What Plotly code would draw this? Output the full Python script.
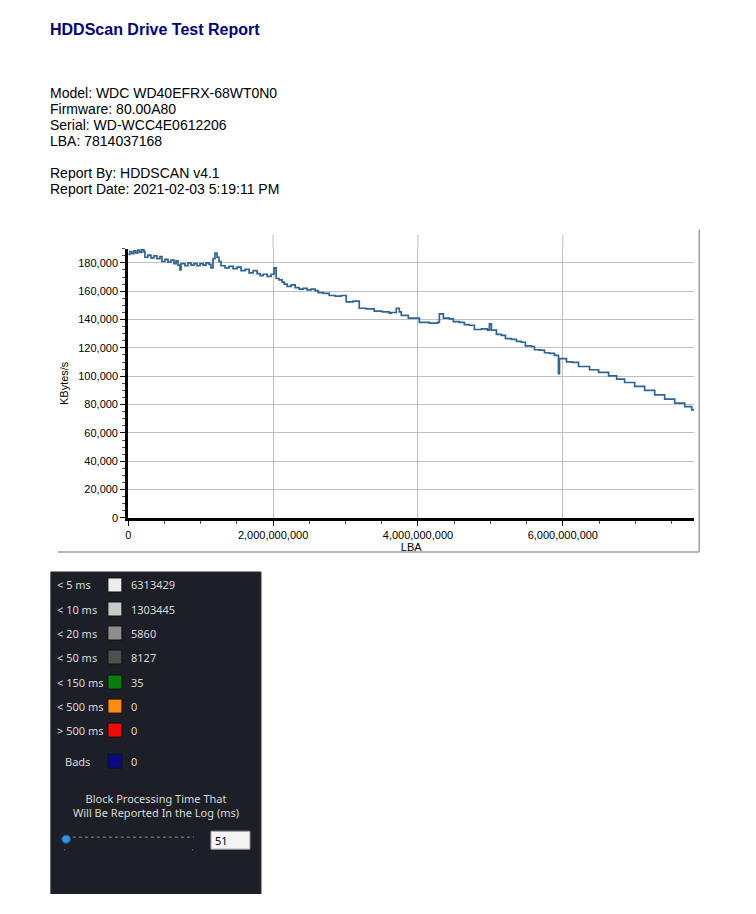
import plotly.graph_objects as go

# ─── report header ────────────────────────────────────────────────────────────
TITLE = "HDDScan Drive Test Report"
INFO_LINES = [
    "Model: WDC WD40EFRX-68WT0N0",
    "Firmware: 80.00A80",
    "Serial: WD-WCC4E0612206",
    "LBA: 7814037168",
    "",
    "Report By: HDDSCAN v4.1",
    "Report Date: 2021-02-03 5:19:11 PM",
]

# ─── transfer speed (LBA in millions, KBytes/s in thousands)
lba_m = [
    0, 24, 51, 79, 106, 134, 162, 189, 217, 231, 272, 314, 355, 397, 438, 466,
    507, 549, 590, 632, 660, 687, 715, 729, 784, 825, 867, 908, 950, 991, 1033,
    1074, 1116, 1143, 1171, 1198, 1226, 1254, 1281, 1337, 1392, 1448, 1503,
    1558, 1613, 1669, 1724, 1779, 1821, 1862, 1918, 1973, 2014, 2042, 2083,
    2125, 2153, 2194, 2250, 2305, 2360, 2415, 2471, 2526, 2581, 2623, 2692,
    2775, 2858, 2941, 3010, 3107, 3190, 3286, 3397, 3507, 3604, 3632, 3701,
    3743, 3770, 3867, 4019, 4157, 4268, 4296, 4351, 4434, 4489, 4572, 4641,
    4710, 4779, 4876, 4959, 4987, 5014, 5084, 5153, 5208, 5291, 5360, 5429,
    5484, 5567, 5609, 5678, 5747, 5816, 5885, 5940, 5954, 6051, 6134, 6217,
    6369, 6494, 6632, 6743, 6853, 6992, 7130, 7268, 7406, 7545, 7683, 7780,
    7814,
]
speed_k = [
    186, 188, 186.5, 188.5, 187, 189, 187.5, 189.5, 188, 184, 185.5, 183.5,
    185, 183, 184.5, 181, 182.5, 180.5, 182, 179.5, 181.5, 178.5, 175, 179.5,
    178, 180, 178.5, 179.5, 178, 179.5, 178.5, 180, 179, 176.5, 183, 187, 184,
    181, 178, 176.5, 177.5, 176, 177, 174.5, 175.5, 173, 174.5, 172.5, 171,
    172, 170.5, 172, 176.5, 169, 168, 166.5, 165, 163.5, 164.5, 162.5, 161.5,
    162, 161, 161.5, 160.5, 159, 158.5, 157, 156.5, 157, 152.5, 153, 148,
    147.5, 146, 145.5, 144.5, 145, 148, 145.5, 143, 141, 138, 137.5, 138, 144,
    141, 140.5, 138.5, 138, 136.5, 136, 133, 133.5, 132.5, 137, 132.5, 129.5,
    128.8, 126.5, 126, 124.6, 124, 121.5, 121, 118.7, 118.5, 116.6, 116.2,
    114.7, 101.8, 112.4, 110.2, 109.8, 106.9, 104.6, 102.7, 100.3, 98, 95.6,
    92.8, 90, 86.9, 83.9, 81, 78.5, 76.3, 76.3,
]
LBA_MAX = 7814037168

# ─── response time legend (screenshot panel under the chart) ─────────────────
bucket_labels = ["< 5 ms", "< 10 ms", "< 20 ms", "< 50 ms", "< 150 ms",
                 "< 500 ms", "> 500 ms", "Bads"]
bucket_counts = [6313429, 1303445, 5860, 8127, 35, 0, 0, 0]
bucket_colors = ["#ededed", "#c9c9c9", "#8e8e8e", "#4f4f4f", "#0a7d0a",
                 "#ff8c0a", "#f00a0a", "#0a0a80"]

# page is 756x914, the html body keeps an 8px margin around the plot div;
# keep the figure a bit shorter than the page so nothing overflows
PAGE_W, PAGE_H, BODY = 756, 914, 8
W, H = PAGE_W - 2 * BODY, PAGE_H - 2 * BODY - 12
X_FIX, Y_FIX = 0.9954, 0.9925  # the page comes out a touch squeezed


def px(x):
    # page pixel -> paper fraction
    return ((x - 2.2) / X_FIX - BODY) / W


def py(y):
    return 1 - ((y - 0.5) / Y_FIX - BODY) / H


x_vals = [v * 1e6 for v in lba_m]
y_vals = [v * 1e3 for v in speed_k]

fig = go.Figure(go.Scatter(
    x=x_vals, y=y_vals, mode="lines", line_shape="hv",
    line=dict(color="#2f6496", width=1.7), hoverinfo="skip",
))

AX_FONT = dict(family="Liberation Sans, Arial", size=11, color="#000000")

fig.update_layout(
    width=W, height=H, autosize=False,
    margin=dict(l=0, r=0, t=0, b=0),
    paper_bgcolor="#ffffff", plot_bgcolor="#ffffff",
    showlegend=False,
    font=AX_FONT,
    xaxis=dict(
        domain=[px(127.3), px(693)], range=[0, LBA_MAX],
        tickvals=[0, 2e9, 4e9, 6e9], tickformat=",d",
        showgrid=True, gridcolor="#c0c0c0", gridwidth=1,
        showline=True, linecolor="#000000", linewidth=3,
        ticks="outside", ticklen=5, tickcolor="#000000", tickwidth=1,
        minor=dict(dtick=5e8, ticks="outside", ticklen=3,
                   tickcolor="#555555", showgrid=False),
        zeroline=False, tickfont=AX_FONT,
        title=dict(text="LBA", font=AX_FONT, standoff=4),
    ),
    yaxis=dict(
        domain=[py(518), py(249)], range=[0, 190000],
        dtick=20000, tickformat=",d",
        showgrid=True, gridcolor="#c0c0c0", gridwidth=1,
        showline=True, linecolor="#000000", linewidth=3,
        ticks="outside", ticklen=5, tickcolor="#000000", tickwidth=1,
        minor=dict(dtick=5000, ticks="outside", ticklen=3,
                   tickcolor="#555555", showgrid=False),
        zeroline=False, tickfont=AX_FONT,
        title=dict(text="KBytes/s", font=AX_FONT, standoff=8),
    ),
)

shapes = []
# vertical gridlines run a little above the y range
for v in [2e9, 4e9, 6e9]:
    shapes.append(dict(type="line", xref="x", yref="paper", x0=v, x1=v,
                       y0=py(249), y1=py(235),
                       line=dict(color="#c0c0c0", width=1)))
# chart frame (right + bottom edge)
shapes.append(dict(type="line", xref="paper", yref="paper",
                   x0=px(698), x1=px(698), y0=py(230), y1=py(552),
                   line=dict(color="#a0a0a0", width=1.5)))
shapes.append(dict(type="line", xref="paper", yref="paper",
                   x0=px(57), x1=px(698), y0=py(552), y1=py(552),
                   line=dict(color="#a0a0a0", width=1.5)))

# dark panel
shapes.append(dict(type="rect", xref="paper", yref="paper",
                   x0=px(50), x1=px(260), y0=py(572), y1=py(894),
                   fillcolor="#1d1f26", line=dict(color="#2c2e35", width=1),
                   layer="below"))

annotations = []
annotations.append(dict(text="<b>" + TITLE + "</b>", xref="paper", yref="paper",
                        x=px(47), y=py(30), xanchor="left", yanchor="middle",
                        showarrow=False,
                        font=dict(family="Liberation Sans, Arial", size=16,
                                  color="#000080")))
for i, line in enumerate(INFO_LINES):
    if not line:
        continue
    annotations.append(dict(text=line, xref="paper", yref="paper",
                            x=px(47), y=py(93 + 16 * i), xanchor="left",
                            yanchor="middle", showarrow=False,
                            font=dict(family="Liberation Sans, Arial", size=14,
                                      color="#000000")))

PANEL_FONT = dict(family="Noto Sans, Liberation Sans", size=11, color="#d8d8d8")
row_y = [585, 609, 633, 657, 682, 706, 730, 761]
for lab, cnt, col, yy in zip(bucket_labels, bucket_counts, bucket_colors, row_y):
    lx = 62 if lab == "Bads" else 54
    annotations.append(dict(text=lab, xref="paper", yref="paper",
                            x=px(lx), y=py(yy), xanchor="left",
                            yanchor="middle", showarrow=False,
                            font=PANEL_FONT))
    annotations.append(dict(text=str(cnt), xref="paper", yref="paper",
                            x=px(128), y=py(yy), xanchor="left",
                            yanchor="middle", showarrow=False,
                            font=PANEL_FONT))
    shapes.append(dict(type="rect", xref="paper", yref="paper",
                       x0=px(107), x1=px(121), y0=py(yy - 7), y1=py(yy + 7),
                       fillcolor=col, line=dict(color="#111111", width=1)))

annotations.append(dict(text="Block Processing Time That<br>Will Be Reported In the Log (ms)",
                        xref="paper", yref="paper", x=px(155), y=py(805),
                        xanchor="center", yanchor="middle", showarrow=False,
                        font=PANEL_FONT))
# slider track, knob and value box
shapes.append(dict(type="line", xref="paper", yref="paper",
                   x0=px(66), x1=px(193), y0=py(837), y1=py(837),
                   line=dict(color="#8a8a8a", width=1, dash="dot")))
shapes.append(dict(type="circle", xref="paper", yref="paper",
                   x0=px(61), x1=px(69.5), y0=py(843), y1=py(835),
                   fillcolor="#3a8fe0", line=dict(color="#1d5fa8", width=1)))
for tx in [63, 191]:
    shapes.append(dict(type="rect", xref="paper", yref="paper",
                       x0=px(tx), x1=px(tx + 1), y0=py(850), y1=py(849),
                       fillcolor="#909090", line=dict(width=0)))
shapes.append(dict(type="rect", xref="paper", yref="paper",
                   x0=px(210), x1=px(249), y0=py(849), y1=py(831),
                   fillcolor="#f4f4f4", line=dict(color="#9a9a9a", width=1)))
annotations.append(dict(text="51", xref="paper", yref="paper",
                        x=px(212), y=py(840), xanchor="left", yanchor="middle",
                        showarrow=False,
                        font=dict(family="Noto Sans, Liberation Sans", size=11,
                                  color="#000000")))

fig.update_layout(shapes=shapes, annotations=annotations)

fig.write_html("out.html")
